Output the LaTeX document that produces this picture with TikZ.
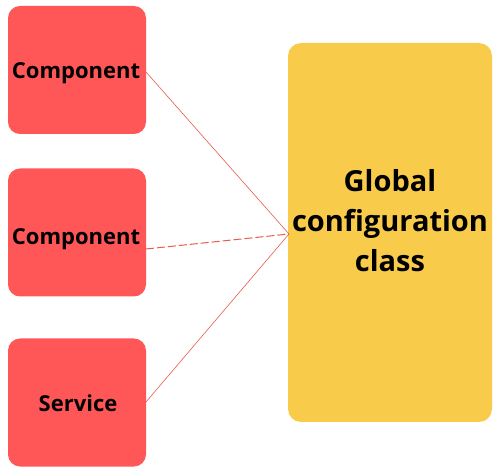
\documentclass[tikz,border=0pt]{standalone}
\usepackage{fontspec}
\setmainfont{Open Sans}
\definecolor{boxred}{HTML}{FF5757}
\definecolor{boxyellow}{HTML}{F9CB4B}
\definecolor{linkred}{HTML}{E85A4C}
\begin{document}
\begin{tikzpicture}[x=1pt,y=-1pt,
  redbox/.style={fill=boxred, rounded corners=12pt, minimum width=138pt, minimum height=128pt, inner sep=0pt},
  yellowbox/.style={fill=boxyellow, rounded corners=13pt, minimum width=204pt, minimum height=379pt, inner sep=0pt},
  redtext/.style={anchor=base, inner sep=0pt, font=\fontsize{22}{26}\selectfont\bfseries, text=black},
  yellowtext/.style={anchor=base, inner sep=0pt, font=\fontsize{29}{40}\selectfont\bfseries, text=black},
  link/.style={draw=linkred, line width=0.6pt}]
\useasboundingbox (0,0) rectangle (496,473);
\node[redbox] (c1) at (77,70) {};
\node[redbox] (c2) at (77,232.5) {};
\node[redbox] (s) at (77,402.5) {};
\node[yellowbox] (g) at (390,232.5) {};
\node[redtext] (t1) at (76,79) {Component};
\node[redtext] (t2) at (76,245) {Component};
\node[redtext] (t3) at (78,412) {Service};
\node[yellowtext] (g1) at (390,192) {Global};
\node[yellowtext] (g2) at (390,232) {configuration};
\node[yellowtext] (g3) at (390,272) {class};
\coordinate (hub) at (289,234);
\coordinate (e1) at (146,72);
\coordinate (e2) at (146,249);
\coordinate (e3) at (146,402);
\draw[link] (e1) -- (hub);
\draw[link, line width=1pt, dash pattern=on 8pt off 3pt] (e2) -- (hub);
\draw[link] (e3) -- (hub);
\end{tikzpicture}
\end{document}
